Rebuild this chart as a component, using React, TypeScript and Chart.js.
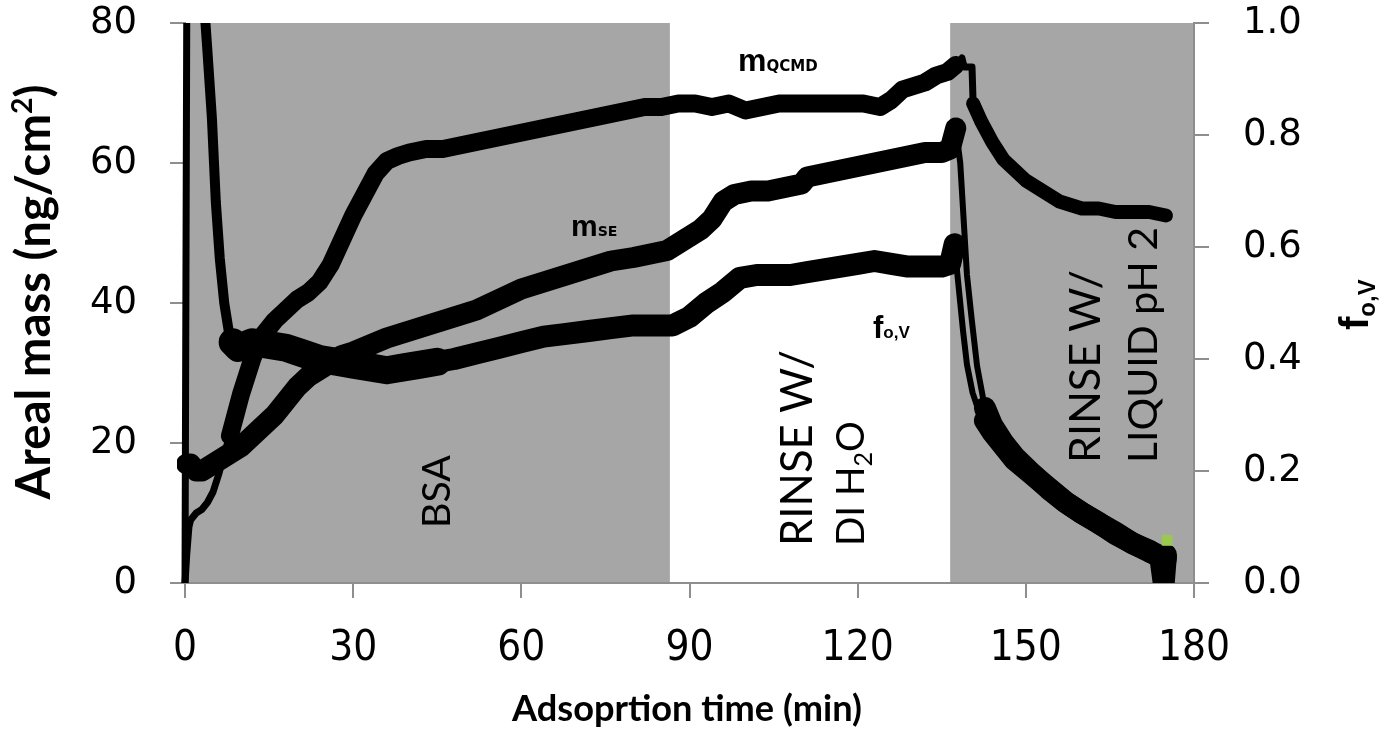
import React, { useEffect, useRef } from "react";
import { Chart, registerables } from "chart.js";

Chart.register(...registerables);

// ---------------- data ----------------
const qcmdTime = [0, 0.3, 0.7, 1, 2, 3, 4, 5, 6, 7, 8, 9, 10, 11, 12, 13, 14, 16, 18, 20, 22, 24, 26, 28, 30, 32, 34, 36, 38, 40, 43, 46, 49, 52, 55, 58, 61, 64, 67, 70, 73, 76, 79, 82, 85, 88, 91, 94, 97, 100, 103, 106, 109, 112, 115, 118, 121, 124, 126, 128, 130, 132, 134, 136, 137.5, 138.6, 139, 140.4, 140.6, 142, 144, 146, 148, 150, 152, 154, 156, 158, 160, 163, 166, 169, 172, 175];
const qcmdMass = [0, 4, 8, 9, 10, 10.5, 11.5, 13, 15.5, 18.5, 21, 24, 27, 29.5, 32, 34, 35.5, 37.5, 39, 40.5, 41.5, 43, 45.5, 49, 52.5, 55.5, 58.5, 60.3, 61, 61.5, 62, 62, 62.5, 63, 63.5, 64, 64.5, 65, 65.5, 66, 66.5, 67, 67.5, 68, 68, 68.5, 68.5, 68, 68.5, 67.5, 68, 68.5, 68.5, 68.5, 68.5, 68.5, 68.5, 68, 69, 70.5, 71, 71.5, 72.5, 73, 74, 75, 73.7, 73.7, 68.5, 66, 63, 60.5, 59, 57.5, 56.5, 55.5, 54.5, 54, 53.5, 53.5, 53, 53, 53, 52.5];

const seTime = [0.3, 1, 2, 3, 4, 5, 6, 7, 8, 10, 12, 14, 16, 18, 20, 22, 24, 26, 28, 30, 33, 36, 40, 44, 48, 52, 56, 60, 64, 68, 72, 76, 80, 83, 86, 89, 92, 94, 96, 98, 101, 104, 107, 110, 111, 114, 117, 120, 123, 126, 129, 132, 135, 136.5, 137.5, 138.3, 139.5, 140.3, 141.3, 142.7, 144, 146, 148, 151, 154, 157, 160, 163, 166, 169, 172, 175];
const seMass = [17, 17, 16, 16, 16.5, 17, 17.5, 18, 18.5, 19.5, 21, 22.5, 24, 26, 28, 29.5, 30.5, 31.5, 32.5, 33, 34, 35, 36, 37, 38, 39, 40.5, 42, 43, 44, 45, 46, 46.5, 47, 47.5, 49, 50.5, 52, 54.5, 55.5, 56, 56, 56.5, 57, 58, 58.5, 59, 59.5, 60, 60.5, 61, 61.5, 61.5, 62, 65, 60, 44, 38, 31, 25, 22.5, 20, 18, 15.7, 13.5, 11.6, 10, 8.6, 7, 5.7, 4.5, 3.5];

const fovTime = [0, 0.4, 3.0, 3.3, 4, 4.8, 5.5, 6.2, 7, 7.8, 8.5, 9.5, 12, 15, 18, 21, 24, 27, 30, 33, 36, 39, 42, 45, 48, 52, 56, 60, 64, 68, 72, 76, 80, 84, 87, 90, 93, 96, 99, 102, 105, 108, 111, 114, 117, 120, 123, 126, 129, 132, 135, 136.5, 137.3, 137.7, 138.3, 138.8, 139.5, 140.5, 141.5, 142.7, 144, 146, 148, 151, 154, 157, 160, 163, 166, 169, 172, 174, 174.6, 175];
const fovValue = [0, 1.3, 1.3, 1.05, 0.95, 0.83, 0.68, 0.58, 0.5, 0.45, 0.43, 0.42, 0.43, 0.425, 0.42, 0.41, 0.4, 0.395, 0.39, 0.385, 0.38, 0.385, 0.39, 0.395, 0.4, 0.41, 0.42, 0.43, 0.44, 0.445, 0.45, 0.455, 0.46, 0.46, 0.46, 0.475, 0.5, 0.52, 0.545, 0.55, 0.55, 0.55, 0.555, 0.56, 0.565, 0.57, 0.575, 0.57, 0.565, 0.565, 0.565, 0.57, 0.605, 0.56, 0.5, 0.45, 0.39, 0.34, 0.31, 0.29, 0.27, 0.245, 0.22, 0.195, 0.17, 0.145, 0.125, 0.107, 0.09, 0.071, 0.058, 0.045, 0.0, 0.05];

const endMarkerTime = [175.2];
const endMarkerMass = [6.1];

const xTickValues = [0, 30, 60, 90, 120, 150, 180];
const massTickValues = [0, 20, 40, 60, 80];
const fovTickValues = [0, 0.2, 0.4, 0.6, 0.8, 1.0];

const phaseBSA = [0, 86.5];
const phaseAcidRinse = [136.5, 180];

// ---------------- styles ----------------
const AXIS_GRAY = "#8e8e8e";
const SHADE = "#a6a6a6";
const MARKER_GREEN = "#9bc850";
const NARROW = '"Liberation Sans Narrow", "DejaVu Sans Condensed", sans-serif';
const HUMANIST = 'Lato, "Open Sans", sans-serif';
const ARIAL = '"Liberation Sans", Arial, sans-serif';

const zip = (xs: number[], ys: number[]) => xs.map((x, i) => ({ x, y: ys[i] }));

type Part = { t: string; s?: number; dy?: number; family?: string };

function drawRich(
  ctx: CanvasRenderingContext2D,
  parts: Part[],
  o: { x: number; y: number; angle: number; align: "left" | "center"; family: string; weight: string; size?: number; length?: number }
) {
  const fontFor = (p: Part, size: number) => `${o.weight} ${size * (p.s ?? 1)}px ${p.family ?? o.family}`;
  const widthAt = (size: number) =>
    parts.reduce((acc, p) => {
      ctx.font = fontFor(p, size);
      return acc + ctx.measureText(p.t).width;
    }, 0);
  const size = o.length ? (100 * o.length) / widthAt(100) : (o.size as number);
  const total = widthAt(size);
  ctx.save();
  ctx.translate(o.x, o.y);
  ctx.rotate(o.angle);
  ctx.textAlign = "left";
  ctx.textBaseline = "alphabetic";
  ctx.fillStyle = "#000";
  let cx = o.align === "center" ? -total / 2 : 0;
  for (const p of parts) {
    ctx.font = fontFor(p, size);
    ctx.fillText(p.t, cx, (p.dy ?? 0) * size);
    cx += ctx.measureText(p.t).width;
  }
  ctx.restore();
}

const shadePlugin = {
  id: "phaseShade",
  beforeDraw(chart: any) {
    const { ctx, chartArea, scales } = chart;
    const x = scales.x;
    ctx.save();
    ctx.fillStyle = SHADE;
    for (const [a, b] of [phaseBSA, phaseAcidRinse]) {
      const xa = x.getPixelForValue(a);
      const xb = x.getPixelForValue(b);
      ctx.fillRect(xa, chartArea.top, xb - xa, chartArea.bottom - chartArea.top);
    }
    ctx.restore();
  },
};

const UP = -Math.PI / 2;

const textPlugin = {
  id: "texts",
  afterDraw(chart: any) {
    const ctx: CanvasRenderingContext2D = chart.ctx;
    // axis titles
    drawRich(ctx, [{ t: "Adsoprtion time (min)" }], { x: 687, y: 721, angle: 0, align: "center", family: HUMANIST, weight: "bold", length: 350 });
    drawRich(ctx, [{ t: "Areal mass (ng/cm" }, { t: "2", s: 0.6, dy: -0.38 }, { t: ")" }], { x: 50, y: 292, angle: UP, align: "center", family: HUMANIST, weight: "bold", length: 415 });
    drawRich(ctx, [{ t: "f", family: ARIAL }, { t: "o,V", s: 0.6, dy: 0.18, family: ARIAL }], { x: 1368, y: 330, angle: UP, align: "left", family: ARIAL, weight: "bold", size: 40 });
    // phase annotations
    drawRich(ctx, [{ t: "BSA" }], { x: 450, y: 528, angle: UP, align: "left", family: HUMANIST, weight: "normal", length: 73 });
    drawRich(ctx, [{ t: "RINSE W/" }], { x: 812, y: 546, angle: UP, align: "left", family: HUMANIST, weight: "normal", length: 196 });
    drawRich(ctx, [{ t: "DI H" }, { t: "2", s: 0.65, dy: 0.2 }, { t: "O" }], { x: 864, y: 546, angle: UP, align: "left", family: HUMANIST, weight: "normal", length: 125 });
    drawRich(ctx, [{ t: "RINSE W/" }], { x: 1100, y: 463, angle: UP, align: "left", family: HUMANIST, weight: "normal", length: 193 });
    drawRich(ctx, [{ t: "LIQUID pH 2" }], { x: 1157, y: 463, angle: UP, align: "left", family: HUMANIST, weight: "normal", length: 236 });
    // series labels
    drawRich(ctx, [{ t: "m" }, { t: "QCMD", s: 0.47, family: '"DejaVu Sans", sans-serif' }], { x: 738, y: 71, angle: 0, align: "left", family: ARIAL, weight: "bold", size: 32 });
    drawRich(ctx, [{ t: "m" }, { t: "SE", s: 0.47, family: '"DejaVu Sans", sans-serif' }], { x: 571, y: 236, angle: 0, align: "left", family: ARIAL, weight: "bold", size: 30 });
    drawRich(ctx, [{ t: "f" }, { t: "o,V", s: 0.55 }], { x: 873, y: 338, angle: 0, align: "left", family: ARIAL, weight: "bold", size: 31 });
  },
};

const qW = (t: number) => (t < 8 ? 7 : t < 137 ? 18 : t < 140.6 ? 7 : 14);
const seW = (t: number) => (t < 137.3 ? 21 : t < 142.7 ? 6 : 22);
const fW = (t: number) => (t < 3.3 ? 7 : t < 8.5 ? 10 : t < 45 ? 28 : t < 137 ? 22 : t < 142 ? 6 : 22);

const noPadV = (s: any, w: number) => { s.width = w; s.paddingTop = 0; s.paddingBottom = 0; };

export default function App() {
  const ref = useRef<HTMLCanvasElement | null>(null);
  useEffect(() => {
    if (!ref.current) return;
    const lineBase = {
      type: "line" as const,
      borderColor: "#000",
      pointRadius: 0,
      fill: false,
      tension: 0,
      order: 5,
      borderJoinStyle: "round" as const,
      borderCapStyle: "round" as const,
      clip: { left: 8, top: 0, right: 8, bottom: 0 },
    };
    const tickFontY = { family: '"DejaVu Sans", sans-serif', size: 37 };
    const chart = new Chart(ref.current, {
      type: "line",
      data: {
        datasets: [
          {
            type: "line",
            label: "end",
            data: zip(endMarkerTime, endMarkerMass),
            yAxisID: "y",
            order: -10,
            showLine: false,
            clip: false,
            pointStyle: "rect",
            pointRadius: 7,
            radius: 7,
            pointRotation: 0,
            backgroundColor: MARKER_GREEN,
            borderColor: MARKER_GREEN,
            pointBackgroundColor: MARKER_GREEN,
            pointBorderColor: MARKER_GREEN,
            pointBorderWidth: 1,
            borderWidth: 1,
          } as any,
          {
            ...lineBase,
            label: "fo,V",
            data: zip(fovTime, fovValue),
            yAxisID: "y1",
            borderWidth: 20,
            segment: { borderWidth: (c: any) => fW(c.p0.parsed.x) },
          } as any,
          {
            ...lineBase,
            label: "mSE",
            data: zip(seTime, seMass),
            yAxisID: "y",
            borderWidth: 18,
            segment: { borderWidth: (c: any) => seW(c.p0.parsed.x) },
          } as any,
          {
            ...lineBase,
            label: "mQCMD",
            data: zip(qcmdTime, qcmdMass),
            yAxisID: "y",
            borderWidth: 16,
            segment: { borderWidth: (c: any) => qW(c.p0.parsed.x) },
          } as any,
        ],
      },
      options: {
        responsive: false,
        devicePixelRatio: 1,
        animation: false,
        layout: { padding: { top: 23, left: 0, right: 0, bottom: 0 } },
        plugins: { legend: { display: false }, tooltip: { enabled: false } },
        scales: {
          x: {
            type: "linear",
            position: "bottom",
            min: 0,
            max: 180,
            afterBuildTicks: (a: any) => { a.ticks = xTickValues.map((v) => ({ value: v })); },
            afterFit: (s: any) => { s.height = 153; s.paddingLeft = 0; s.paddingRight = 0; },
            ticks: { color: "#000", font: { family: NARROW, size: 42 }, padding: 26, maxRotation: 0, autoSkip: false },
            grid: { drawOnChartArea: false, tickLength: 15, color: AXIS_GRAY, lineWidth: 2 },
            border: { color: AXIS_GRAY, width: 2 },
          },
          y: {
            type: "linear",
            position: "left",
            min: 0,
            max: 80,
            afterBuildTicks: (a: any) => { a.ticks = massTickValues.map((v) => ({ value: v })); },
            afterFit: (s: any) => noPadV(s, 185),
            ticks: { color: "#000", font: tickFontY, padding: 33 },
            grid: { drawOnChartArea: false, tickLength: 15, color: AXIS_GRAY, lineWidth: 2 },
            border: { color: AXIS_GRAY, width: 2 },
          },
          y1: {
            type: "linear",
            position: "right",
            min: 0,
            max: 1,
            afterBuildTicks: (a: any) => { a.ticks = fovTickValues.map((v) => ({ value: v })); },
            afterFit: (s: any) => noPadV(s, 206),
            ticks: { color: "#000", font: tickFontY, padding: 34, callback: (v: any) => Number(v).toFixed(1) },
            grid: { drawOnChartArea: false, tickLength: 15, color: AXIS_GRAY, lineWidth: 2 },
            border: { color: AXIS_GRAY, width: 2 },
          },
        },
      } as any,
      plugins: [shadePlugin, textPlugin],
    });
    return () => chart.destroy();
  }, []);
  return (
    <div style={{ position: "absolute", left: 0, top: 0, width: 1400, height: 736, background: "#fff" }}>
      <canvas ref={ref} width={1400} height={736} style={{ display: "block" }} />
    </div>
  );
}
